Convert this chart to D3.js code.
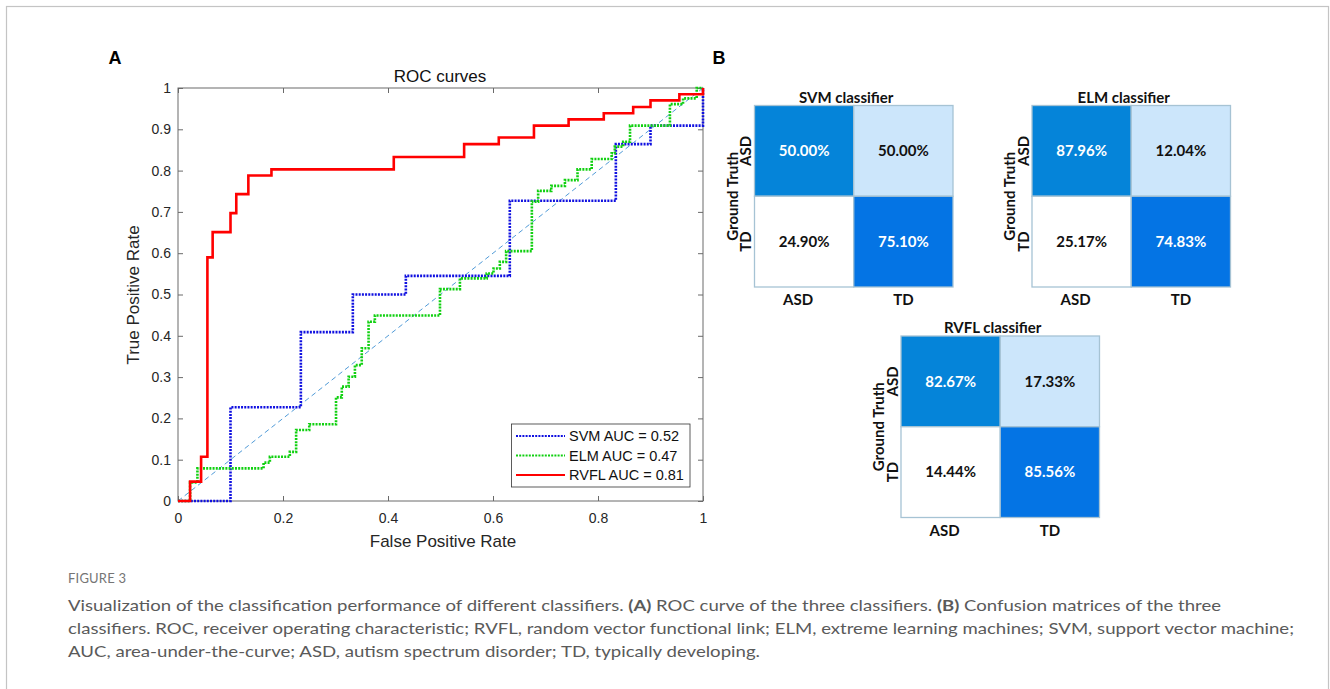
<!DOCTYPE html>
<html>
<head>
<meta charset="utf-8">
<script src="https://cdn.jsdelivr.net/npm/d3@7"></script>
<style>
  body { margin: 0; background: #fff; }
  svg { display: block; }
</style>
</head>
<body>
<svg width="1330" height="689"></svg>
<script>
// ROC curves, step vertices [FPR, TPR]
const svmRoc = [[0,0],[0.100,0.227],[0.234,0.409],[0.333,0.5],[0.434,0.545],[0.632,0.727],
  [0.834,0.864],[0.900,0.909],[1,0.955],[1,1]];
const elmRoc = [[0,0],[0.023,0.045],[0.037,0.079],[0.163,0.093],[0.175,0.107],[0.213,0.119],
  [0.225,0.172],[0.250,0.186],[0.301,0.251],[0.312,0.277],[0.325,0.301],[0.337,0.329],
  [0.350,0.370],[0.363,0.434],[0.375,0.449],[0.499,0.513],[0.537,0.539],[0.588,0.551],
  [0.601,0.563],[0.613,0.579],[0.625,0.605],[0.674,0.725],[0.686,0.751],[0.711,0.763],
  [0.737,0.777],[0.761,0.803],[0.788,0.828],[0.826,0.842],[0.832,0.858],[0.848,0.870],
  [0.861,0.909],[0.937,0.961],[0.962,0.975],[0.988,1],[1,1]];
const rvflRoc = [[0,0],[0.023,0.047],[0.044,0.107],[0.056,0.59],[0.066,0.651],[0.100,0.697],
  [0.111,0.743],[0.134,0.788],[0.178,0.803],[0.411,0.833],[0.545,0.864],[0.611,0.880],
  [0.678,0.909],[0.744,0.924],[0.811,0.939],[0.867,0.954],[0.900,0.970],[0.955,0.985],[1,1]];
const chanceLine = [[0,0],[1,1]];
const legendLabels = ["SVM AUC = 0.52", "ELM AUC = 0.47", "RVFL AUC = 0.81"];
const xTicks = [0, 0.2, 0.4, 0.6, 0.8, 1];
const yTicks = [0, 0.1, 0.2, 0.3, 0.4, 0.5, 0.6, 0.7, 0.8, 0.9, 1];

// confusion matrices (row = ground truth, col = predicted), percent
const classLabels = ["ASD", "TD"];
const matrixTitles = ["SVM classifier", "ELM classifier", "RVFL classifier"];
const svmMatrix = [[50.00, 50.00], [24.90, 75.10]];
const elmMatrix = [[87.96, 12.04], [25.17, 74.83]];
const rvflMatrix = [[82.67, 17.33], [14.44, 85.56]];

const captionHead = "FIGURE 3";

const svg = d3.select("svg");
const sans = "'Liberation Sans', Arial, sans-serif";
const cal = "Lato, 'Open Sans', sans-serif";

// outer frame
svg.append("rect").attr("x", 6.5).attr("y", 6.5).attr("width", 1322).attr("height", 720)
  .attr("fill", "none").attr("stroke", "#c4c4c4").attr("stroke-width", 1.2);

// panel letters
svg.append("text").attr("x", 115).attr("y", 64).attr("text-anchor", "middle")
  .style("font", "bold 18px " + sans).text("A");
svg.append("text").attr("x", 719).attr("y", 64).attr("text-anchor", "middle")
  .style("font", "bold 18px " + sans).text("B");

// ---------- panel A: ROC ----------
const x = d3.scaleLinear().domain([0, 1]).range([178, 703]);
const y = d3.scaleLinear().domain([0, 1]).range([501, 88]);
const fmt = d3.format("~g");

const roc = svg.append("g");

function styleAxis(g) {
  g.select(".domain").remove();
  g.selectAll(".tick line").attr("stroke", "#444").attr("stroke-width", 0.8);
  g.selectAll(".tick text").attr("fill", "#262626").style("font", "14px " + sans);
}

roc.append("g").attr("transform", "translate(0,501)")
  .call(d3.axisBottom(x).tickValues(xTicks).tickFormat(fmt).tickSizeInner(-5).tickSizeOuter(0).tickPadding(12))
  .call(styleAxis);
roc.append("g").attr("transform", "translate(178,0)")
  .call(d3.axisLeft(y).tickValues(yTicks).tickFormat(fmt).tickSizeInner(-5).tickSizeOuter(0).tickPadding(7))
  .call(styleAxis);
roc.append("g").attr("transform", "translate(0,88)")
  .call(d3.axisTop(x).tickValues(xTicks).tickFormat("").tickSizeInner(-5).tickSizeOuter(0))
  .call(styleAxis);
roc.append("g").attr("transform", "translate(703,0)")
  .call(d3.axisRight(y).tickValues(yTicks).tickFormat("").tickSizeInner(-5).tickSizeOuter(0))
  .call(styleAxis);

roc.append("rect").attr("x", x(0)).attr("y", y(1))
  .attr("width", x(1) - x(0)).attr("height", y(0) - y(1))
  .attr("fill", "none").attr("stroke", "#6a6a6a").attr("stroke-width", 1);

const stepLine = d3.line().x(d => x(d[0])).y(d => y(d[1])).curve(d3.curveStepAfter);
const straight = d3.line().x(d => x(d[0])).y(d => y(d[1]));

roc.append("path").attr("d", straight(chanceLine)).attr("fill", "none")
  .attr("stroke", "#3c8fd2").attr("stroke-width", 0.9).attr("stroke-dasharray", "5,3.5");

const series = [
  { data: svmRoc, color: "#1010e0", dash: "2,1.2" },
  { data: elmRoc, color: "#10d010", dash: "2,1.2" },
  { data: rvflRoc, color: "#ff0000", dash: null }
];
series.forEach(s => {
  roc.append("path").attr("d", stepLine(s.data)).attr("fill", "none")
    .attr("stroke", s.color).attr("stroke-width", 2.6)
    .attr("stroke-dasharray", s.dash);
});

roc.append("text").attr("x", 440).attr("y", 82).attr("text-anchor", "middle")
  .style("font", "17px " + sans).attr("fill", "#111").text("ROC curves");
roc.append("text").attr("x", 443).attr("y", 547).attr("text-anchor", "middle")
  .style("font", "17px " + sans).attr("fill", "#262626").text("False Positive Rate");
roc.append("text").attr("transform", "translate(139,295) rotate(-90)").attr("text-anchor", "middle")
  .style("font", "17px " + sans).attr("fill", "#262626").text("True Positive Rate");

// legend
const legend = roc.append("g");
legend.append("rect").attr("x", 511.5).attr("y", 424).attr("width", 178.5).attr("height", 63)
  .attr("fill", "#fff").attr("stroke", "#333").attr("stroke-width", 0.8);
legendLabels.forEach((lab, i) => {
  const ly = 436 + i * 19.5;
  legend.append("line").attr("x1", 516).attr("x2", 565).attr("y1", ly).attr("y2", ly)
    .attr("stroke", series[i].color).attr("stroke-width", i === 2 ? 2 : 1.8)
    .attr("stroke-dasharray", series[i].dash);
  legend.append("text").attr("x", 569).attr("y", ly).attr("dy", "0.36em")
    .style("font", "14.5px " + sans).attr("fill", "#111").text(lab);
});

// ---------- panel B: confusion matrices ----------
const cellFill = [["#0584d9", "#cce6fb"], ["#ffffff", "#0474e4"]];
const textFill = [["#ffffff", "#111"], ["#111", "#ffffff"]];

const matrices = [
  { title: matrixTitles[0], data: svmMatrix, x0: 754.5, y0: 105.5 },
  { title: matrixTitles[1], data: elmMatrix, x0: 1032, y0: 105.5 },
  { title: matrixTitles[2], data: rvflMatrix, x0: 901, y0: 336 }
];
const mw = 198.5, mh = 181.5;
const mfont = "bold 15px " + cal;

matrices.forEach(m => {
  const cx = d3.scaleBand().domain(classLabels).range([m.x0, m.x0 + mw]);
  const cy = d3.scaleBand().domain(classLabels).range([m.y0, m.y0 + mh]);
  const g = svg.append("g");
  m.data.forEach((row, r) => row.forEach((v, c) => {
    g.append("rect").attr("x", cx(classLabels[c])).attr("y", cy(classLabels[r]))
      .attr("width", cx.bandwidth()).attr("height", cy.bandwidth())
      .attr("fill", cellFill[r][c]).attr("stroke", "#a6c3d4").attr("stroke-width", 1.3);
    g.append("text").attr("x", cx(classLabels[c]) + cx.bandwidth() / 2)
      .attr("y", cy(classLabels[r]) + cy.bandwidth() / 2).attr("dy", "0.35em")
      .attr("text-anchor", "middle").attr("fill", textFill[r][c])
      .style("font", mfont).text(v.toFixed(2) + "%");
  }));
  g.append("text").attr("x", m.x0 + mw / 2 - 7.5).attr("y", m.y0 - 3)
    .attr("text-anchor", "middle").attr("fill", "#111")
    .style("font", mfont).text(m.title);
  classLabels.forEach((lab, i) => {
    g.append("text").attr("x", cx(lab) + cx.bandwidth() / 2 - (i === 0 ? 6 : 0))
      .attr("y", m.y0 + mh + 13).attr("dy", "0.35em").attr("text-anchor", "middle")
      .attr("fill", "#111").style("font", mfont).text(lab);
    g.append("text")
      .attr("transform", `translate(${m.x0 - 8.5},${cy(lab) + cy.bandwidth() / 2}) rotate(-90)`)
      .attr("dy", "0.35em").attr("text-anchor", "middle")
      .attr("fill", "#111").style("font", mfont).text(lab);
  });
  g.append("text")
    .attr("transform", `translate(${m.x0 - 22},${m.y0 + mh / 2}) rotate(-90)`)
    .attr("dy", "0.35em").attr("text-anchor", "middle")
    .attr("fill", "#111").style("font", mfont).text("Ground Truth");
});

// ---------- caption ----------
svg.append("text").attr("x", 68).attr("y", 583).attr("fill", "#757575")
  .style("font", "13px " + cal).style("letter-spacing", "0.2px").text(captionHead);

const captionLines = [
  { parts: [["Visualization of the classification performance of different classifiers. ", false], ["(A)", true],
    [" ROC curve of the three classifiers. ", false], ["(B)", true], [" Confusion matrices of the three", false]], len: 1153 },
  { parts: [["classifiers. ROC, receiver operating characteristic; RVFL, random vector functional link; ELM, extreme learning machines; SVM, support vector machine;", false]], len: 1226 },
  { parts: [["AUC, area-under-the-curve; ASD, autism spectrum disorder; TD, typically developing.", false]], len: 692 }
];
captionLines.forEach((ln, i) => {
  const t = svg.append("text").attr("x", 68).attr("y", 611 + i * 23)
    .attr("fill", "#5a5a5a").style("font", "16px " + cal)
    .attr("textLength", ln.len).attr("lengthAdjust", "spacingAndGlyphs");
  ln.parts.forEach(p => t.append("tspan").style("font-weight", p[1] ? "bold" : "normal").text(p[0]));
});
</script>
</body>
</html>
